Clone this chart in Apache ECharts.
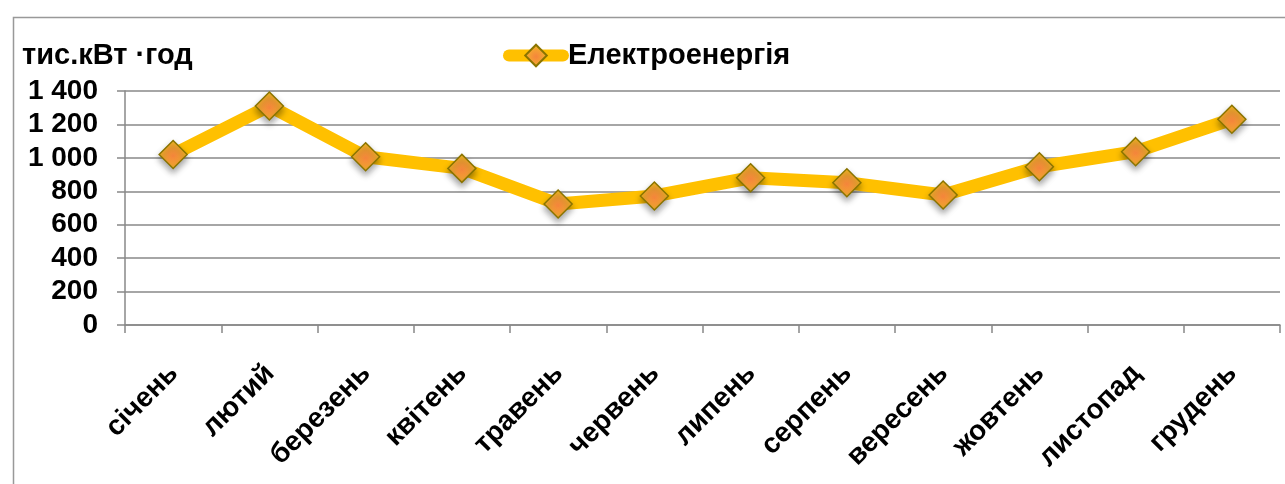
<!DOCTYPE html>
<html>
<head>
<meta charset="utf-8">
<script src="https://cdn.jsdelivr.net/npm/echarts@6/dist/echarts.min.js"></script>
<style>
html,body{margin:0;padding:0;background:#fff;}
#chart{width:1285px;height:484px;}
</style>
</head>
<body>
<div id="chart"></div>
<script>
const months = ['січень','лютий','березень','квітень','травень','червень','липень','серпень','вересень','жовтень','листопад','грудень'];
const electricity = [1020, 1310, 1007, 937, 724, 772, 881, 851, 778, 947, 1037, 1231];
const seriesName = 'Електроенергія';
const unitLabel = 'тис.кВт ·год';
const yMin = 0, yMax = 1400, yStep = 200;

const FONT = "'Liberation Sans', Arial, sans-serif";
const chart = echarts.init(document.getElementById('chart'), null, {renderer:'canvas'});

function fmt(v){
  if (v >= 1000) { const t = Math.floor(v/1000); const r = String(v % 1000).padStart(3,'0'); return t + ' ' + r; }
  return String(v);
}

const markerFill = new echarts.graphic.RadialGradient(0.5, 0.55, 0.65, [
  {offset:0, color:'#F5853C'},
  {offset:0.35, color:'#F49A35'},
  {offset:1, color:'#F0C81A'}
]);

chart.setOption({
  animation:false,
  backgroundColor:'#fff',
  graphic:[{
    type:'rect', left:11, top:15, shape:{x:0,y:0,width:1400,height:600},
    style:{fill:'none', stroke:'#999', lineWidth:1.5}, silent:true, z:-1
  }],
  title:{
    text: unitLabel, left:17, top:36,
    textStyle:{fontFamily:FONT, fontWeight:'bold', fontSize:29, color:'#000'}
  },
  legend:{
    left:498, top:36, itemWidth:54, itemHeight:27, itemGap:10,
    lineStyle:{width:12, color:'#FFC000', cap:'round'},
    textStyle:{fontFamily:FONT, fontWeight:'bold', fontSize:29, color:'#000'},
    data:[seriesName]
  },
  grid:{left:125, right:5, top:91, bottom:159, containLabel:false},
  xAxis:{
    type:'category', data:months, boundaryGap:true,
    axisLine:{lineStyle:{color:'#888', width:1.5}},
    axisTick:{show:true, length:8, lineStyle:{color:'#888', width:1.5}, alignWithLabel:false},
    axisLabel:{rotate:45, align:'right', verticalAlign:'top', margin:25, interval:0, padding:[0,13,0,0],
      fontFamily:FONT, fontWeight:'bold', fontSize:28, color:'#000'}
  },
  yAxis:{
    type:'value', min:yMin, max:yMax, interval:yStep,
    axisLine:{show:true, lineStyle:{color:'#888', width:1.5}},
    axisTick:{show:true, length:8, lineStyle:{color:'#888', width:1.5}},
    splitLine:{show:true, lineStyle:{color:'#888', width:1.5}},
    axisLabel:{margin:27, formatter:fmt, fontFamily:FONT, fontWeight:'bold', fontSize:28, color:'#000'}
  },
  series:[{
    name:seriesName, type:'line', data:electricity,
    symbol:'diamond', symbolSize:28,
    lineStyle:{color:'#FFC000', width:13, cap:'round', join:'round'},
    itemStyle:{color:markerFill, borderColor:'#8A7400', borderWidth:1.5,
      shadowBlur:6, shadowOffsetY:4, shadowColor:'rgba(0,0,0,0.35)'},
    emphasis:{disabled:true}
  }]
});
</script>
</body>
</html>
